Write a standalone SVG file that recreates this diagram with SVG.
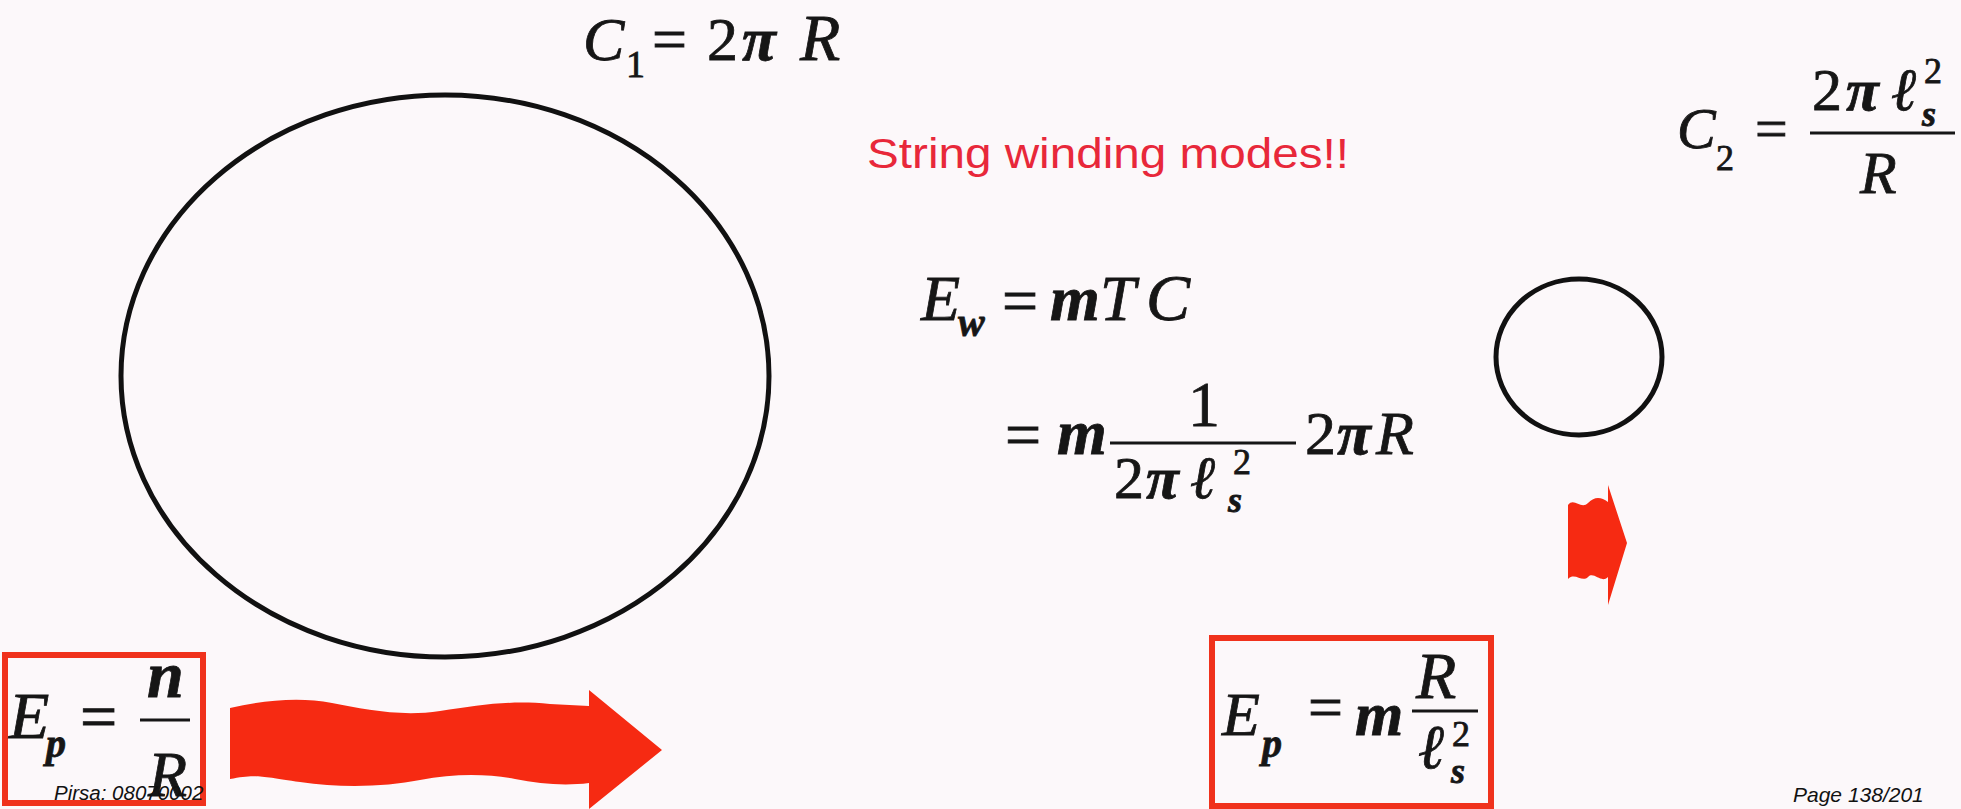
<svg xmlns="http://www.w3.org/2000/svg" width="1961" height="809" viewBox="0 0 1961 809">
  <style>
    .m { font-family: "Liberation Serif", "DejaVu Serif", serif; fill: #161616; stroke: #161616; stroke-width: 0.8; }
    .i { font-style: italic; }
    .b { font-style: italic; font-weight: bold; }
    .fr { stroke: #161616; stroke-width: 3; }
    .ring { fill: none; stroke: #111; stroke-width: 5; }
    .box { fill: none; stroke: #f0321c; stroke-width: 6; }
    .arrow { fill: #f62a12; }
    .foot { font-family: "Liberation Sans", Arial, sans-serif; font-style: italic; fill: #111; }
  </style>
  <rect x="0" y="0" width="1961" height="809" fill="#fcf8fa"/>

  <g id="big-circle">
    <ellipse class="ring" cx="445" cy="376" rx="324" ry="281"/>
  </g>
  <g id="small-circle">
    <ellipse class="ring" cx="1579" cy="357" rx="83" ry="78"/>
  </g>

  <g id="c1-label">
    <text class="m i" x="583" y="60" font-size="62">C</text>
    <text class="m" x="626" y="77" font-size="38">1</text>
    <text class="m" x="652" y="60" font-size="62">=</text>
    <text class="m" x="707" y="60" font-size="62">2</text>
    <text class="m b" x="742" y="60" font-size="62">π</text>
    <text class="m i" x="800" y="60" font-size="66">R</text>
  </g>

  <g id="c2-label">
    <text class="m i" x="1677" y="148" font-size="58">C</text>
    <text class="m" x="1716" y="170" font-size="36">2</text>
    <text class="m" x="1755" y="148" font-size="58">=</text>
    <line class="fr" x1="1810" y1="133" x2="1955" y2="133"/>
    <text class="m" x="1812" y="110" font-size="60">2</text>
    <text class="m b" x="1846" y="110" font-size="60">π</text>
    <text class="m i" x="1891" y="110" font-size="60">ℓ</text>
    <text class="m" x="1924" y="83" font-size="36">2</text>
    <text class="m b" x="1922" y="126" font-size="36">s</text>
    <text class="m i" x="1860" y="193" font-size="60">R</text>
  </g>

  <g id="title">
    <text x="867" y="168" font-family="Liberation Sans, Arial, sans-serif" font-size="42" fill="#e8283a" textLength="482" lengthAdjust="spacingAndGlyphs">String winding modes!!</text>
  </g>

  <g id="ew-equation">
    <text class="m i" x="921" y="320" font-size="64">E</text>
    <text class="m b" x="958" y="336" font-size="40">w</text>
    <text class="m" x="1002" y="322" font-size="64">=</text>
    <text class="m b" x="1050" y="320" font-size="64">m</text>
    <text class="m i" x="1100" y="320" font-size="64">T</text>
    <text class="m i" x="1146" y="320" font-size="66">C</text>

    <text class="m" x="1005" y="456" font-size="64">=</text>
    <text class="m b" x="1057" y="454" font-size="64">m</text>
    <line class="fr" x1="1110" y1="443" x2="1296" y2="443"/>
    <text class="m" x="1188" y="426" font-size="64">1</text>
    <text class="m" x="1114" y="498" font-size="60">2</text>
    <text class="m b" x="1146" y="498" font-size="60">π</text>
    <text class="m i" x="1190" y="498" font-size="60">ℓ</text>
    <text class="m" x="1233" y="474" font-size="36">2</text>
    <text class="m b" x="1228" y="512" font-size="36">s</text>
    <text class="m" x="1305" y="454" font-size="62">2</text>
    <text class="m b" x="1337" y="454" font-size="62">π</text>
    <text class="m i" x="1376" y="454" font-size="62">R</text>
  </g>

  <g id="ep-left">
    <rect class="box" x="5" y="655" width="198" height="148"/>
    <text class="m i" x="9" y="738" font-size="66">E</text>
    <text class="m b" x="46" y="757" font-size="40">p</text>
    <text class="m" x="80" y="739" font-size="66">=</text>
    <line class="fr" x1="140" y1="720" x2="190" y2="720"/>
    <text class="m b" x="147" y="697" font-size="66">n</text>
    <text class="m i" x="148" y="796" font-size="64">R</text>
  </g>

  <g id="ep-right">
    <rect class="box" x="1212" y="638" width="279" height="168"/>
    <text class="m i" x="1222" y="735" font-size="62">E</text>
    <text class="m b" x="1262" y="757" font-size="40">p</text>
    <text class="m" x="1308" y="728" font-size="62">=</text>
    <text class="m b" x="1355" y="735" font-size="62">m</text>
    <line class="fr" x1="1412" y1="711" x2="1478" y2="711"/>
    <text class="m i" x="1416" y="698" font-size="66">R</text>
    <text class="m i" x="1418" y="768" font-size="62">ℓ</text>
    <text class="m" x="1452" y="746" font-size="36">2</text>
    <text class="m b" x="1451" y="783" font-size="36">s</text>
  </g>

  <g id="connectors">
    <path class="arrow" d="M230,708 C265,700 300,697 332,703 S400,717 440,711 S510,700 550,704 L589,706 L589,690 L662,750 L589,809 L589,783 C565,786 540,784 515,779 S455,773 420,780 S340,788 300,782 S255,774 230,779 Z"/>
    <path class="arrow" d="M1568,505 C1574,497 1581,510 1588,503 S1601,497 1608,502 L1608,485 L1627,543 L1608,605 L1608,577 C1601,584 1594,571 1588,577 S1575,572 1568,579 Z"/>
  </g>

  <g id="footer">
    <text class="foot" x="54" y="800" font-size="20.5">Pirsa: 08070002</text>
    <text class="foot" x="1793" y="802" font-size="21">Page 138/201</text>
  </g>
</svg>
